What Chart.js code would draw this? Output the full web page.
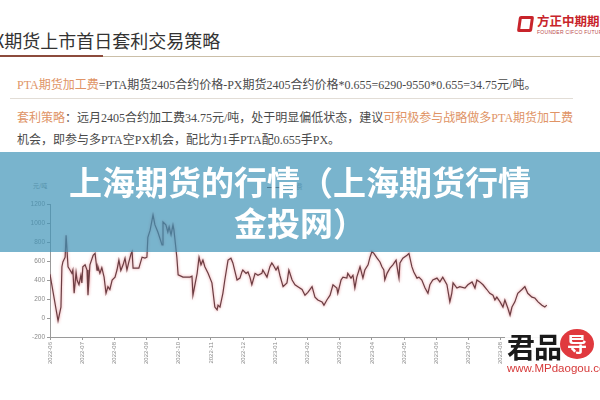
<!DOCTYPE html>
<html lang="zh-CN">
<head>
<meta charset="utf-8">
<title>上海期货的行情</title>
<script src="https://cdn.jsdelivr.net/npm/chart.js@4.4.0/dist/chart.umd.min.js"></script>
<style>
    html, body { margin: 0; padding: 0; width: 600px; height: 400px; overflow: hidden; background: #fff; }
    body { position: relative; font-family: "Liberation Serif", "Noto Sans CJK SC", serif; color: #4a4a4a; }
    .abs { position: absolute; white-space: nowrap; }
    .slide-title { left: -17px; top: 27px; font-size: 18px; color: #333; font-family: "Noto Sans CJK SC", sans-serif; }
    .rule-dark { left: 0; top: 55px; width: 103px; height: 2px; background: #8c4b3c; }
    .rule-light { left: 103px; top: 56px; width: 497px; height: 1px; background: #cbbfa8; }
    .logo-icon { left: 518px; top: 16px; width: 9px; height: 10px; border: 3px solid #c8242b; border-radius: 2px; transform: skewX(-8deg); }
    .logo-text { left: 537px; top: 11px; font-size: 12.5px; font-weight: bold; color: #c8242b; font-family: "Noto Sans CJK SC", sans-serif; }
    .logo-sub { left: 537px; top: 29px; font-size: 5px; color: #b84a4a; font-family: "Liberation Sans", sans-serif; letter-spacing: 0.3px; }
    .para { left: 17px; font-size: 12px; line-height: 16px; }
    .hl { color: #e09466; }
    .sep { left: 10px; top: 98px; width: 563px; height: 1px; background: #e2ddd6; }
    .unit { left: 33px; top: 181px; font-size: 6px; color: #888; font-family: "Noto Sans CJK SC", sans-serif; }
    .legend { left: 267px; top: 181px; font-size: 6.5px; color: #888; font-family: "Noto Sans CJK SC", sans-serif; }
    .legend i { display: inline-block; width: 13px; height: 1px; background: #6b3d42; vertical-align: middle; margin-right: 3px; }
    #chartBox { position: absolute; left: 0; top: 190px; width: 600px; height: 210px; }
    .banner { position: absolute; left: 0; top: 152px; width: 600px; height: 100px; background: rgba(64, 148, 184, 0.7);
              color: #fff; font-family: "Noto Sans CJK SC", sans-serif; font-weight: bold; font-size: 33px;
              line-height: 41px; text-align: center; padding-top: 9px; box-sizing: border-box; }
    .mark { left: 505px; top: 328px; width: 95px; height: 52px; background: rgba(255, 255, 255, 0.92); }
    .mark-cn { left: 507px; top: 326px; font-size: 28px; font-weight: bold; color: #1a1a1a; font-family: "Noto Sans CJK SC", sans-serif; letter-spacing: -1px; }
    .mark-dot { left: 560px; top: 329px; width: 34px; height: 30px; border-radius: 50%; background: #e0393e; color: #fff;
                font-size: 20px; font-weight: bold; text-align: center; line-height: 30px; font-family: "Noto Sans CJK SC", sans-serif; }
    .mark-url { left: 507px; top: 362px; font-size: 11.5px; color: #d63a3a; font-family: "Liberation Sans", sans-serif; }
</style>
</head>
<body>
<div class="abs slide-title">PX期货上市首日套利交易策略</div>
<div class="abs rule-dark"></div>
<div class="abs rule-light"></div>
<div class="abs logo-icon"></div>
<div class="abs logo-text">方正中期期货</div>
<div class="abs logo-sub">FOUNDER CIFCO FUTURES</div>

<div class="abs para" style="top:77px"><span class="hl">PTA期货加工费</span>=PTA期货2405合约价格-PX期货2405合约价格*0.655=6290-9550*0.655=34.75元/吨。</div>
<div class="abs sep"></div>
<div class="abs para" style="top:110px"><span class="hl">套利策略</span>：远月2405合约加工费34.75元/吨，处于明显偏低状态，建议<span class="hl">可积极参与战略做多PTA期货加工费</span></div>
<div class="abs para" style="top:132px">机会，即参与多PTA空PX机会，配比为1手PTA配0.655手PX。</div>

<div class="abs unit">元/吨</div>
<div class="abs legend"><i></i>加工费</div>
<div id="chartBox"><canvas id="spreadChart"></canvas></div>

<div class="banner">上海期货的行情（上海期货行情<br>金投网）</div>

<div class="abs mark"></div>
<div class="abs mark-cn">君品</div>
<div class="abs mark-dot">导</div>
<div class="abs mark-url">www.MPdaogou.com</div>

<script>
// 横轴月份标签（刻度 0 = 2022-06）
const monthLabels = ['2022-06', '2022-07', '2022-08', '2022-09', '2022-10', '2022-11', '2022-12',
    '2023-01', '2023-02', '2023-03', '2023-04', '2023-05', '2023-06', '2023-07', '2023-08', '2023-09'];

// 采样点的位置（以月为单位，自 2022-06 起）
const monthPos = [0.00, 0.25, 0.34, 0.37, 0.40, 0.47, 0.50, 0.56, 0.62, 0.68, 0.71, 0.75, 0.81, 0.84, 0.90, 0.96,
    0.99, 1.02, 1.09, 1.15, 1.18, 1.24, 1.34, 1.40, 1.46, 1.49, 1.55, 1.61, 1.68, 1.74, 1.80, 1.86,
    1.93, 2.02, 2.08, 2.14, 2.20, 2.27, 2.33, 2.39, 2.45, 2.52, 2.55, 2.58, 2.70, 2.76, 2.86, 2.95,
    3.01, 3.04, 3.11, 3.20, 3.26, 3.35, 3.48, 3.51, 3.60, 3.66, 3.70, 3.76, 3.82, 3.85, 3.94, 3.98,
    4.13, 4.35, 4.41, 4.44, 4.57, 4.63, 4.69, 4.75, 4.81, 4.91, 5.03, 5.12, 5.19, 5.22, 5.28, 5.37,
    5.43, 5.53, 5.62, 5.68, 5.81, 5.90, 5.96, 5.99, 6.09, 6.15, 6.21, 6.27, 6.37, 6.46, 6.58, 6.61,
    6.74, 6.83, 6.89, 6.93, 7.02, 7.08, 7.14, 7.24, 7.36, 7.42, 7.52, 7.61, 7.70, 7.83, 7.92, 8.01,
    8.14, 8.23, 8.32, 8.45, 8.51, 8.60, 8.70, 8.79, 8.91, 8.94, 9.04, 9.10, 9.22, 9.25, 9.35, 9.41,
    9.47, 9.53, 9.63, 9.72, 9.78, 9.88, 9.94, 10.00, 10.06, 10.16, 10.25, 10.31, 10.37, 10.40, 10.47, 10.56,
    10.65, 10.75, 10.78, 10.84, 10.87, 10.96, 11.09, 11.15, 11.24, 11.30, 11.40, 11.46, 11.55, 11.65, 11.74, 11.80,
    11.89, 12.02, 12.11, 12.20, 12.33, 12.42, 12.48, 12.52, 12.64, 12.73, 12.89, 12.98, 13.11, 13.20, 13.26, 13.35,
    13.45, 13.57, 13.66, 13.76, 13.82, 13.88, 13.98, 14.07, 14.13, 14.22, 14.29, 14.35, 14.44, 14.53, 14.66, 14.75,
    14.84, 14.97, 15.06, 15.16, 15.28, 15.37, 15.43];

// PTA 加工费（元/吨）
const spreadValues = [460, -30, 115, 540, 590, 640, 870, 540, 505, 470, 505, 260, 480, 400, 350, 450,
    370, 540, 560, 505, 240, 560, 660, 680, 505, 540, 470, 530, 430, 260, 330, 300,
    400, 430, 505, 610, 500, 560, 630, 505, 590, 680, 700, 525, 525, 525, 640, 630,
    640, 850, 925, 1085, 980, 905, 770, 1010, 980, 905, 960, 875, 980, 925, 640, 455,
    430, 430, 440, 240, 470, 640, 560, 610, 540, 470, 370, 115, 85, 135, 115, 260,
    400, 610, 630, 580, 400, 420, 485, 505, 470, 485, 430, 350, 470, 450, 470, 505,
    430, 540, 580, 560, 505, 540, 450, 330, 370, 505, 400, 350, 330, 300, 240, 270,
    330, 220, 190, 170, 135, 190, 240, 350, 315, 260, 400, 430, 420, 470, 420, 450,
    315, 430, 540, 420, 505, 560, 640, 700, 680, 630, 590, 540, 505, 400, 470, 525,
    560, 610, 540, 420, 580, 630, 660, 680, 540, 485, 420, 430, 400, 315, 260, 350,
    400, 420, 380, 430, 350, 170, 260, 370, 315, 330, 315, 350, 380, 315, 400, 380,
    350, 300, 260, 240, 190, 220, 170, 115, 190, 105, 30, 115, 170, 260, 300, 330,
    260, 220, 210, 170, 135, 115, 135];

// 纵轴范围
const yMin = -200;
const yMax = 1200;
const yStep = 200;

document.addEventListener('DOMContentLoaded', function() {
    // 线条的红色光晕
    const glowPlugin = {
        id: 'lineGlow',
        beforeDatasetDraw: function(chart) {
            const ctx = chart.ctx;
            ctx.save();
            ctx.shadowColor = 'rgba(215, 55, 65, 0.6)';
            ctx.shadowBlur = 3;
        },
        afterDatasetDraw: function(chart) {
            chart.ctx.restore();
        }
    };

    const points = monthPos.map(function(m, i) {
        return { x: m, y: spreadValues[i] };
    });

    const ctx = document.getElementById('spreadChart').getContext('2d');
    new Chart(ctx, {
        type: 'line',
        data: {
            datasets: [{
                label: '加工费',
                data: points,
                borderColor: '#6b3d42',
                borderWidth: 1.2,
                pointRadius: 0,
                tension: 0,
                fill: false
            }]
        },
        options: {
            responsive: true,
            maintainAspectRatio: false,
            animation: false,
            layout: {
                padding: { top: 14, right: 51, left: 0, bottom: 0 }
            },
            scales: {
                x: {
                    type: 'linear',
                    min: 0,
                    max: 15.5,
                    afterFit: function(scale) { scale.height = 63; },
                    border: { color: '#9a9a9a', width: 1 },
                    grid: { drawOnChartArea: false, tickLength: 3, color: '#9a9a9a' },
                    ticks: {
                        stepSize: 1,
                        includeBounds: false,
                        autoSkip: false,
                        minRotation: 90,
                        maxRotation: 90,
                        padding: 2,
                        color: '#8a8a8a',
                        font: { size: 6, family: 'Liberation Sans' },
                        callback: function(value) {
                            return monthLabels[value] || '';
                        }
                    }
                },
                y: {
                    min: yMin,
                    max: yMax,
                    afterFit: function(scale) { scale.width = 50; },
                    border: { color: '#9a9a9a', width: 1 },
                    grid: { drawOnChartArea: false, tickLength: 3, color: '#9a9a9a' },
                    ticks: {
                        stepSize: yStep,
                        padding: 2,
                        color: '#8a8a8a',
                        font: { size: 6.5, family: 'Liberation Sans' },
                        callback: function(value) {
                            return String(value);
                        }
                    }
                }
            },
            plugins: {
                legend: { display: false },
                tooltip: { enabled: false }
            }
        },
        plugins: [glowPlugin]
    });
});
</script>
</body>
</html>
